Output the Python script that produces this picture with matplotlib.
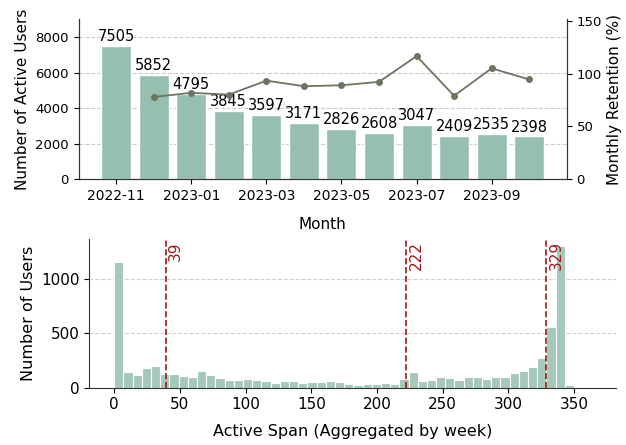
import numpy as np
import matplotlib
matplotlib.use('Agg')
import matplotlib.pyplot as plt

# 月別アクティブユーザー
months = ['2022-11', '2022-12', '2023-01', '2023-02', '2023-03', '2023-04',
          '2023-05', '2023-06', '2023-07', '2023-08', '2023-09', '2023-10']
active_users = [7505, 5852, 4795, 3845, 3597, 3171, 2826, 2608, 3047, 2409, 2535, 2398]
# 月次リテンション (%), 2022-12 から
retention = [78.0, 81.9, 80.2, 93.5, 88.2, 89.1, 92.3, 116.8, 79.1, 105.2, 94.6]

# 活動期間のヒストグラム (7日ごと)
span_bin_left = list(range(0, 350, 7))
span_counts = [1150, 143, 115, 176, 198, 122, 122, 109, 94, 149,
               112, 88, 67, 67, 79, 73, 58, 46, 61, 58,
               40, 55, 55, 58, 49, 36, 21, 36, 36, 46,
               36, 79, 143, 64, 73, 97, 88, 67, 94, 94,
               79, 100, 100, 131, 149, 188, 270, 553, 1298, 24]
span_marks = [39, 222, 329]

bar_color = '#97bfb0'
hist_color = '#a5c8bb'
line_color = '#6b7560'
mark_color = '#a01818'
spine_color = '#333333'

fig = plt.figure(figsize=(6.26, 4.45), dpi=100)

# 上段: 棒グラフ + リテンション
ax1 = fig.add_axes([0.1257, 0.5978, 0.7796, 0.3589])
x = np.arange(len(months))
ax1.bar(x, active_users, width=0.8, color=bar_color, edgecolor='white', linewidth=1, zorder=2)
for xi, v in zip(x, active_users):
    ax1.text(xi, v + 100, str(v), ha='center', va='bottom', fontsize=10.5)
ax1.set_xlim(-1, 12)
ax1.set_ylim(0, max(active_users) * 1.2)
ax1.set_xticks(x[::2])
ax1.set_xticklabels(months[::2], fontsize=10)
ax1.set_yticks([0, 2000, 4000, 6000, 8000])
ax1.tick_params(axis='y', labelsize=9.5)
ax1.set_xlabel('Month', fontsize=11, labelpad=10)
ax1.set_ylabel('Number of Active Users', fontsize=11)
ax1.grid(axis='y', linestyle='--', color='#cccccc', zorder=0)
ax1.spines['top'].set_visible(False)

ax2 = ax1.twinx()
ax2.plot(x[1:], retention, color=line_color, marker='o', markersize=4, linewidth=1.3)
ax2.set_ylim(0, max(retention) * 1.3)
ax2.set_yticks([0, 50, 100, 150])
ax2.tick_params(axis='y', labelsize=9.5)
ax2.set_ylabel('Monthly Retention (%)', fontsize=11)
ax2.spines['top'].set_visible(False)
for ax in (ax1, ax2):
    for s in ax.spines.values():
        s.set_color(spine_color)

# 下段: ヒストグラム
ax3 = fig.add_axes([0.1427, 0.1288, 0.8414, 0.3342])
ax3.bar(span_bin_left, span_counts, width=7, align='edge', color=hist_color,
        edgecolor='white', linewidth=0.8, zorder=2)
ax3.set_xlim(-19, 382)
ax3.set_ylim(0, max(span_counts) * 1.05)
ymax = ax3.get_ylim()[1]
for m in span_marks:
    ax3.axvline(m, color=mark_color, linestyle='--', linewidth=1.2, zorder=3)
    ax3.text(m + 2, ymax * 0.985, str(m), rotation=90, color=mark_color,
             ha='left', va='top', fontsize=11)
ax3.set_xticks(range(0, 351, 50))
ax3.set_yticks([0, 500, 1000])
ax3.tick_params(labelsize=11)
ax3.set_xlabel('Active Span (Aggregated by week)', fontsize=11.5, labelpad=8)
ax3.set_ylabel('Number of Users', fontsize=11.5)
ax3.grid(axis='y', linestyle='--', color='#d0d0d0', zorder=0)
ax3.spines['top'].set_visible(False)
ax3.spines['right'].set_visible(False)
for s in ax3.spines.values():
    s.set_color(spine_color)

fig.savefig('out.png', dpi=100)
